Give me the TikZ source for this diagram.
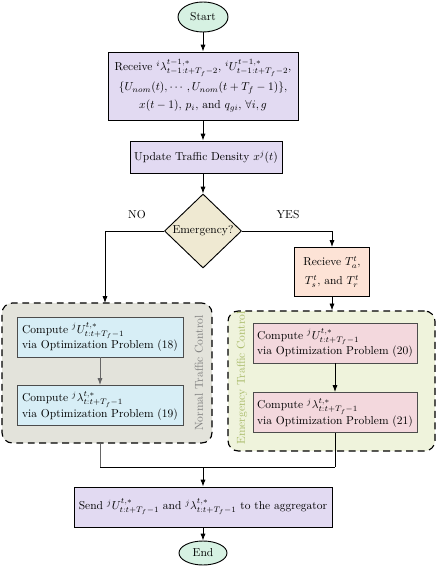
\documentclass[tikz,border=0pt]{standalone}
\usepackage{amsmath}
\usetikzlibrary{shapes.geometric,arrows.meta,positioning}
\definecolor{cterm}{HTML}{D6F1E2}
\definecolor{cproc}{HTML}{E2DAF2}
\definecolor{cdec}{HTML}{EFE9D2}
\definecolor{cpeach}{HTML}{FDE3D6}
\definecolor{cgrayg}{HTML}{E3E3DB}
\definecolor{cblue}{HTML}{D7EEF6}
\definecolor{cgreeng}{HTML}{EFF3DC}
\definecolor{cpink}{HTML}{F3D8DD}
\definecolor{cnlab}{HTML}{7F7F7F}
\definecolor{celab}{HTML}{A8BA68}
\begin{document}
\begin{tikzpicture}[x=0.87pt,y=-0.87pt,
  >={Latex[length=6pt,width=4.5pt]},
  term/.style={ellipse,draw,thick,fill=cterm,inner sep=0pt},
  proc/.style={rectangle,draw,thick,fill=cproc,inner sep=2pt,align=center},
  dec/.style={diamond,draw,thick,fill=cdec,inner sep=0pt,minimum width=77*0.87pt,minimum height=74*0.87pt},
  peach/.style={rectangle,draw,thick,fill=cpeach,align=center,inner sep=2pt,minimum width=75*0.87pt,minimum height=49*0.87pt},
  grp/.style={rectangle,draw=black,line width=1pt,dash pattern=on 6pt off 4pt,rounded corners=9pt},
  inbox/.style={rectangle,draw=black!70,thick,align=left,inner sep=3pt,minimum height=40*0.87pt},
  conn/.style={draw,thick},
  gconn/.style={draw,thick,black!60}]
\useasboundingbox (0,0) rectangle (436,570);
% nodes
\node[term,minimum width=50*0.87pt,minimum height=30*0.87pt] (start) at (203,17) {Start};
\node[proc,minimum width=190*0.87pt,minimum height=68*0.87pt] (recv) at (203,86)
  {Receive ${}^{i}\lambda^{t-1,*}_{t-1:t+T_f-2}$, ${}^{i}U^{t-1,*}_{t-1:t+T_f-2}$,\\[4pt]
   $\{U_{nom}(t),\cdots,U_{nom}(t+T_f-1)\}$,\\[4pt]
   $x(t-1)$, $p_i$, and $q_{gi}$, $\forall i,g$};
\node[proc,minimum width=152*0.87pt,minimum height=32*0.87pt] (upd) at (206,157) {Update Traffic Density $x^j(t)$};
\node[dec] (emg) at (203,231) {Emergency?};
\node (no) at (137,215) {NO};
\node (yes) at (288,215) {YES};
\node[peach] (rt) at (332,272) {Recieve $T_a^t$,\\[5pt] $T_s^t$, and $T_r^t$};
% groups
\node[grp,fill=cgrayg,minimum width=210*0.87pt,minimum height=140*0.87pt] (gl) at (107,373) {};
\node[grp,fill=cgreeng,minimum width=207*0.87pt,minimum height=140*0.87pt] (gr) at (331.5,381) {};
\node[rotate=90,text=cnlab] (nl) at (199,373) {Normal Traffic Control};
\node[rotate=90,text=celab] (el) at (242,378) {Emergency Traffic Control};
\node[inbox,fill=cblue,minimum width=166*0.87pt] (b1) at (100,337)
  {Compute ${}^{j}U^{t,*}_{t:t+T_f-1}$\\via Optimization Problem (18)};
\node[inbox,fill=cblue,minimum width=166*0.87pt] (b2) at (100,405.5)
  {Compute ${}^{j}\lambda^{t,*}_{t:t+T_f-1}$\\via Optimization Problem (19)};
\node[inbox,fill=cpink,minimum width=164*0.87pt] (p1) at (335,343)
  {Compute ${}^{j}U^{t,*}_{t:t+T_f-1}$\\via Optimization Problem (20)};
\node[inbox,fill=cpink,minimum width=164*0.87pt] (p2) at (335,412.5)
  {Compute ${}^{j}\lambda^{t,*}_{t:t+T_f-1}$\\via Optimization Problem (21)};
\coordinate (lt) at (105,303);
\coordinate (ml) at (100,467);
\coordinate (mr) at (335,467);
\coordinate (mc) at (203,467);
\node[proc,minimum width=258*0.87pt,minimum height=40*0.87pt] (send) at (203,507)
  {Send ${}^{j}U^{t,*}_{t:t+T_f-1}$ and ${}^{j}\lambda^{t,*}_{t:t+T_f-1}$ to the aggregator};
\node[term,minimum width=48*0.87pt,minimum height=24*0.87pt] (end) at (203,553) {End};
% connectors
\draw[conn,->] (start) -- (recv.north -| start);
\draw[conn,->] (recv.south -| start) -- (upd.north -| start);
\draw[conn,->] (upd.south -| start) -- (emg.north);
\draw[conn,->] (emg.west) -| (lt);
\draw[conn,->] (emg.east) -| (rt.north);
\draw[conn,->] (rt.south) -- (gr.north -| rt.south);
\draw[gconn,->] (b1) -- (b2);
\draw[conn,->] (p1) -- (p2);
\draw[gconn] (gl.south -| b1.center) -- (ml);
\draw[conn] (ml) -- (mr);
\draw[conn] (p2.south) -- (mr);
\draw[conn,->] (mc) -- (send.north -| mc);
\draw[conn,->] (send.south -| end) -- (end);
\end{tikzpicture}
\end{document}
